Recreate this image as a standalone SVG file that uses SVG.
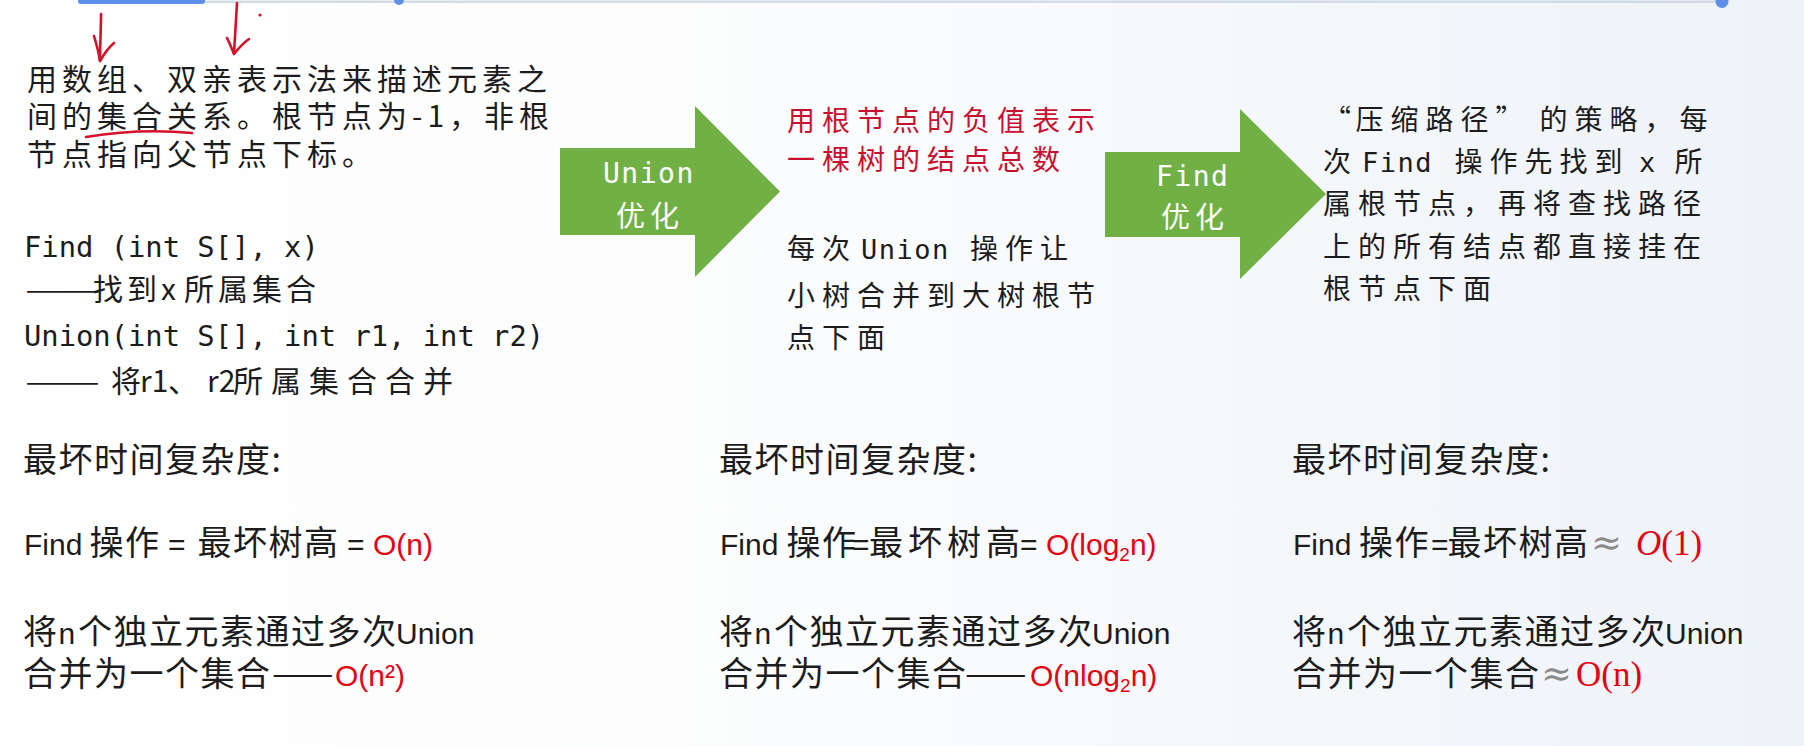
<svg xmlns="http://www.w3.org/2000/svg" width="1804" height="746" viewBox="0 0 1804 746">
<defs>
<linearGradient id="bg" x1="0" y1="0" x2="1" y2="0">
<stop offset="0" stop-color="#ffffff"/>
<stop offset="0.45" stop-color="#fbfcfd"/>
<stop offset="1" stop-color="#eef3f8"/>
</linearGradient>
</defs>
<style>
.kai{font-family:'Noto Sans CJK SC',sans-serif;fill:#1c1c1c}
.k30{font-size:30px;letter-spacing:5px}
.k28{font-size:28px;letter-spacing:7px}
.mono{font-family:'DejaVu Sans Mono',monospace;font-size:28.8px;fill:#1c1c1c;letter-spacing:0}
.mono2{font-family:'DejaVu Sans Mono',monospace;font-size:27px;letter-spacing:1.5px}
.red{fill:#c8102e}
.cx{font-family:'Noto Sans CJK SC',sans-serif;font-size:34px;letter-spacing:1.5px;fill:#1c1c1c}
.lt{font-family:'Liberation Sans',sans-serif;font-size:30px;letter-spacing:0}
.bred{fill:#e50012}
.ser{font-family:'Liberation Serif',serif;font-size:35px;letter-spacing:0}
.approx{font-family:'DejaVu Serif',serif;font-size:37px;fill:#8a8a8a;letter-spacing:0}
.dash{font-family:'Noto Sans CJK SC',sans-serif;fill:#1c1c1c}
.ink{stroke:#d4102a;stroke-width:2.6;fill:none;stroke-linecap:round;stroke-linejoin:round}
.garrow{fill:#71b045}
.alabel{font-family:'DejaVu Sans Mono',monospace;font-size:28px;letter-spacing:1.5px;fill:#ffffff}
.alabelc{font-family:'Noto Sans CJK SC',sans-serif;font-size:29px;letter-spacing:5px;fill:#ffffff}
</style>
<rect x="0" y="0" width="1804" height="746" fill="url(#bg)"/>

<g id="progress-bar">
<rect x="78" y="0.5" width="1645" height="2.5" fill="#d3dce6"/>
<rect x="78" y="-3" width="127" height="7" rx="3" fill="#5d8fe9"/>
<circle cx="399" cy="0" r="5" fill="#5d8fe9"/>
<circle cx="1722" cy="1.5" r="6.5" fill="#5d8fe9"/>
</g>

<g id="annotations">
<path class="ink" d="M101 14 C101 28 100 46 100 61"/>
<path class="ink" d="M94 36 C97 46 99 54 100 61 C104 54 108 48 114 43"/>
<path class="ink" d="M237 3 C236 20 235 38 234 53"/>
<path class="ink" d="M227 38 C230 44 232 49 234 54 C238 49 243 43 249 39"/>
<circle cx="260" cy="15" r="1.6" fill="#d4102a"/>
<path class="ink" d="M86 137 C110 133 150 129 192 133"/>
</g>

<g id="intro">
<text class="kai k30" x="27" y="90" letter-spacing="5.4">用数组、双亲表示法来描述元素之</text>
<text class="kai k30" x="27" y="127" letter-spacing="4.5">间的集合关系。根节点为-1，非根</text>
<text class="kai k30" x="27" y="165">节点指向父节点下标。</text>
<text class="mono" x="24" y="257">Find (int S[], x)</text>
<text class="dash" font-size="30" transform="translate(25 300) scale(1.49 1)">——</text>
<text class="kai k30" y="300"><tspan x="93" letter-spacing="4">找到x</tspan><tspan x="184" letter-spacing="4">所属集合</tspan></text>
<text class="mono" x="24" y="346">Union(int S[], int r1, int r2)</text>
<text class="dash" font-size="30" transform="translate(25 392) scale(1.49 1)">——</text>
<text class="kai k30" y="392"><tspan x="111">将</tspan><tspan x="140" letter-spacing="0">r1</tspan><tspan x="168">、</tspan><tspan x="207" letter-spacing="0">r2</tspan><tspan x="233" letter-spacing="8">所属集合合并</tspan></text>
</g>

<g id="connectors">
<g id="union-arrow">
<polygon class="garrow" points="560,148 695,148 695,106 780,191.5 695,277 695,235 560,235"/>
<text class="alabel" x="603" y="183">Union</text>
<text class="alabelc" x="616" y="226.5">优化</text>
</g>
<g id="find-arrow">
<polygon class="garrow" points="1105,152 1240,152 1240,109 1326,194 1240,279 1240,237 1105,237"/>
<text class="alabel" x="1156" y="186">Find</text>
<text class="alabelc" x="1161" y="228">优化</text>
</g>
</g>

<g id="union-opt">
<text class="kai k28 red" x="787" y="130.6">用根节点的负值表示</text>
<text class="kai k28 red" x="787" y="169.6">一棵树的结点总数</text>
<text class="kai k28" y="258.6"><tspan x="787">每次</tspan><tspan class="mono2" x="861">Union</tspan><tspan x="970">操作让</tspan></text>
<text class="kai k28" x="787" y="305.6">小树合并到大树根节</text>
<text class="kai k28" x="787" y="348">点下面</text>
</g>

<g id="find-opt">
<text class="kai k28" y="129.6"><tspan x="1323">“</tspan><tspan x="1355.5">压缩路径”</tspan><tspan x="1539.5">的策略，每</tspan></text>
<text class="kai k28" y="171.6"><tspan x="1323">次</tspan><tspan class="mono2" x="1362">Find</tspan><tspan x="1454.5">操作先找到</tspan><tspan class="mono2" x="1639">x</tspan><tspan x="1674.5">所</tspan></text>
<text class="kai k28" x="1323" y="213.6">属根节点，再将查找路径</text>
<text class="kai k28" x="1323" y="256.6">上的所有结点都直接挂在</text>
<text class="kai k28" x="1323" y="298.6">根节点下面</text>
</g>

<g id="complexity-basic">
<text class="cx" x="23" y="472">最坏时间复杂度:</text>
<text class="cx" y="555"><tspan class="lt" x="24">Find</tspan><tspan x="89.5">操作</tspan><tspan class="lt" x="168">=</tspan><tspan x="197.5">最坏树高</tspan><tspan class="lt" x="347">=</tspan><tspan class="lt bred" x="373">O(n)</tspan></text>
<text class="cx" y="644"><tspan x="23">将</tspan><tspan class="lt">n</tspan><tspan x="78">个独立元素通过多次</tspan><tspan class="lt" x="396">Union</tspan></text>
<text class="cx" y="686"><tspan x="23">合并为一个集合</tspan><tspan class="lt bred" x="335">O(n²)</tspan></text>
<text class="dash" font-size="34" letter-spacing="7" transform="translate(272 686) scale(1.08 1)">——</text>
</g>

<g id="complexity-union">
<text class="cx" x="719" y="472">最坏时间复杂度:</text>
<text class="cx" y="555"><tspan class="lt" x="720">Find</tspan><tspan x="786.5">操作</tspan><tspan class="lt" x="852">=</tspan><tspan x="869" letter-spacing="5">最坏树高</tspan><tspan class="lt" x="1020">=</tspan><tspan class="lt bred" x="1046">O(log<tspan font-size="19" dy="6">2</tspan><tspan dy="-6">n)</tspan></tspan></text>
<text class="cx" y="644"><tspan x="719">将</tspan><tspan class="lt">n</tspan><tspan x="774">个独立元素通过多次</tspan><tspan class="lt" x="1092">Union</tspan></text>
<text class="cx" y="686"><tspan x="719">合并为一个集合</tspan><tspan class="lt bred" x="1030">O(nlog<tspan font-size="19" dy="6">2</tspan><tspan dy="-6">n)</tspan></tspan></text>
<text class="dash" font-size="34" letter-spacing="7" transform="translate(965 686) scale(1.08 1)">——</text>
</g>

<g id="complexity-find">
<text class="cx" x="1292" y="472">最坏时间复杂度:</text>
<text class="cx" y="555"><tspan class="lt" x="1293">Find</tspan><tspan x="1359">操作</tspan><tspan class="lt" x="1431">=</tspan><tspan x="1447.5">最坏树高</tspan><tspan class="approx" x="1591">≈</tspan><tspan class="ser bred" x="1636"><tspan font-style="italic">O</tspan>(1)</tspan></text>
<text class="cx" y="644"><tspan x="1292">将</tspan><tspan class="lt">n</tspan><tspan x="1347">个独立元素通过多次</tspan><tspan class="lt" x="1665">Union</tspan></text>
<text class="cx" y="686"><tspan x="1292">合并为一个集合</tspan><tspan class="approx" x="1541">≈</tspan><tspan class="ser bred" x="1576" font-size="33">O(n)</tspan></text>
</g>
</svg>
